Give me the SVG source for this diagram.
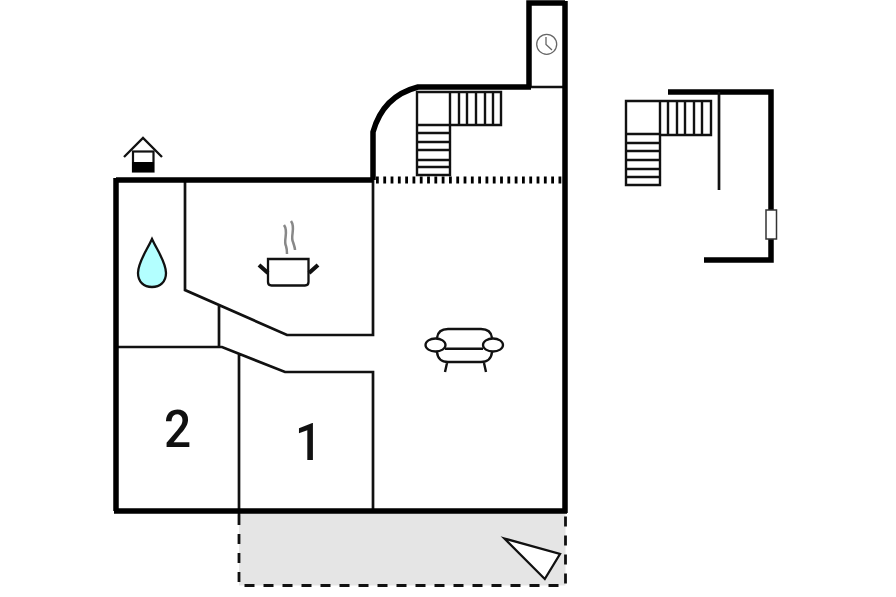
<svg xmlns="http://www.w3.org/2000/svg" width="896" height="597" viewBox="0 0 896 597">
<style>
.w{fill:none;stroke:#000;stroke-width:5.500}
.t{fill:none;stroke:#111;stroke-width:2.700}
.s{fill:none;stroke:#111;stroke-width:2.400}
.l{font-family:Roboto,"Liberation Sans",Arial,sans-serif;font-size:52px;font-weight:500;fill:#111;text-anchor:middle}
</style>
<rect width="896" height="597" fill="#fff"/>
<g id="terrace">
<rect x="239" y="513" width="326.500" height="72.500" fill="#e5e5e5"/>
<path d="M239 515V585.500H565.500V513" fill="none" stroke="#111" stroke-width="2.800" stroke-dasharray="10 9"/>
<path d="M504.500 538.500L560 554L544.800 579Z" fill="#fff" stroke="#111" stroke-width="2.300"/>
</g>
<g id="walls">
<path class="t" d="M185 180V290L287 335H373V180M219 306V347M116 347H222L285 372H373V511M239 354V515M531 87H565"/>
<path class="w" d="M373 180V132Q383 96 418 87H531M529 87V3H565M116 180H373M116 178V511M114 511H567M565 1V513"/>
<path d="M376 180H562" fill="none" stroke="#000" stroke-width="7" stroke-dasharray="2.800 4.500"/>
</g>
<g id="stairs-main">
<path class="s" d="M417 92H450V125H417ZM417 125V175H450V125M417 133H450M417 142H450M417 150H450M417 160H450M417 167H450M450 92H501V125H450M459 92V125M467 92V125M476 92V125M485 92V125M493 92V125"/>
</g>
<g id="clock" fill="none" stroke="#666" stroke-width="1.300">
<circle cx="546.700" cy="44.300" r="10"/>
<path d="M546 37V44.500L552 50"/>
</g>
<g id="upper-floor">
<path class="w" d="M668 92H771V260H704"/>
<path class="t" d="M719 92V190"/>
<rect x="766" y="210" width="10.500" height="29" fill="#fff" stroke="#333" stroke-width="1.500"/>
<path class="s" d="M626 101H660V134H626ZM626 134V185H660V134M626 143H660M626 151H660M626 160H660M626 169H660M626 177H660M660 101H711V135H660M668 101V135M677 101V135M685 101V135M694 101V135M702 101V135"/>
</g>
<g id="well">
<path d="M124 157L143 138L162 157" fill="none" stroke="#111" stroke-width="2.300"/>
<rect x="133" y="151.500" width="20.500" height="20" fill="#fff" stroke="#111" stroke-width="2.200"/>
<rect x="132" y="162" width="22" height="10" fill="#000"/>
</g>
<g id="water">
<path d="M152 239C147 250 138 262 138 273C138 282 144 287 152 287C160 287 166 282 166 273C166 262 157 250 152 239Z" fill="#b3ffff" stroke="#111" stroke-width="2.300"/>
</g>
<g id="kitchen">
<path d="M268 259H308.500V282Q308.500 285.500 305 285.500H271.500Q268 285.500 268 282Z" fill="#fff" stroke="#111" stroke-width="2.300"/>
<path d="M259 265L268 273M318 265L309 273" fill="none" stroke="#111" stroke-width="4.200"/>
<path d="M284 225C289 232 283 240 286 246C287 249 287 251 287 254M291 221C296 228 290 236 293 242C294 245 295 248 295 250" fill="none" stroke="#888" stroke-width="2.500"/>
</g>
<g id="sofa">
<path class="s" d="M437 338Q438 329 448 329H481Q491 329 492 338M445 348.700H483M437 352Q438 362 448 362H481Q491 362 492 352M447 363L445 372M484 363L486 372"/>
<ellipse cx="435.500" cy="345" rx="10" ry="6.500" fill="#fff" stroke="#111" stroke-width="2.300"/>
<ellipse cx="493" cy="345" rx="10" ry="6.500" fill="#fff" stroke="#111" stroke-width="2.300"/>
</g>
<g id="room-2"><text class="l" transform="translate(177.500 447) scale(.92 1)">2</text></g>
<g id="room-1"><text class="l" transform="translate(308.500 460) scale(.92 1)">1</text></g>
</svg>
